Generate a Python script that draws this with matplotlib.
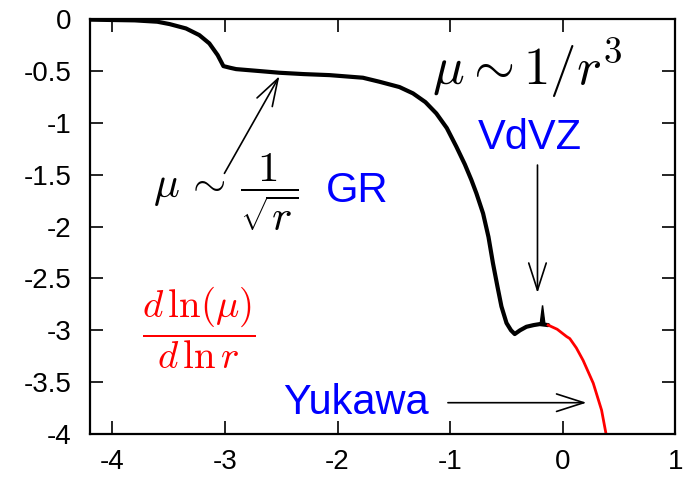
import matplotlib
matplotlib.use("Agg")
import matplotlib.pyplot as plt
from matplotlib.patches import Polygon

plt.rcParams['font.family'] = ['Liberation Sans', 'DejaVu Sans']
plt.rcParams['mathtext.fontset'] = 'cm'

# logarithmic slope of mu versus ln r
x_black = [-4.2, -3.8, -3.6, -3.49, -3.345, -3.227, -3.138, -3.064, -3.013,
           -2.95, -2.90, -2.7, -2.516, -2.3, -2.07, -1.775, -1.627, -1.45,
           -1.33, -1.22, -1.123, -1.03, -0.945, -0.87, -0.812, -0.767, -0.708,
           -0.66, -0.62, -0.58, -0.545, -0.5, -0.46, -0.427, -0.38, -0.323,
           -0.26, -0.204, -0.13]
y_black = [-0.005, -0.012, -0.025, -0.048, -0.09, -0.154, -0.234, -0.347, -0.453,
           -0.47, -0.482, -0.50, -0.517, -0.53, -0.54, -0.565, -0.604, -0.655,
           -0.716, -0.80, -0.909, -1.05, -1.23, -1.40, -1.55, -1.68, -1.873,
           -2.10, -2.355, -2.58, -2.77, -2.93, -3.0, -3.036, -3.0, -2.966,
           -2.95, -2.94, -2.95]

x_red = [-0.13, -0.05, 0.033, 0.062, 0.12, 0.18, 0.27, 0.344, 0.382]
y_red = [-2.95, -2.99, -3.06, -3.08, -3.17, -3.29, -3.51, -3.77, -3.99]

x_ticks = [-4, -3, -2, -1, 0, 1]
y_ticks = [0, -0.5, -1, -1.5, -2, -2.5, -3, -3.5, -4]
y_ticklabels = ['0', '-0.5', '-1', '-1.5', '-2', '-2.5', '-3', '-3.5', '-4']

# arrow endpoints (tail, head)
gr_arrow = ((-3.004, -1.487), (-2.516, -0.55))
vdvz_arrow = ((-0.225, -1.407), (-0.225, -2.64))
yukawa_arrow = ((-1.02, -3.698), (0.21, -3.698))
spike = [(-0.20, -2.93), (-0.16, -2.93), (-0.18, -2.76)]

fig = plt.figure(figsize=(6.83, 4.78), dpi=100)
ax = fig.add_axes([0.1313, 0.092, 0.8577, 0.868])

ax.plot(x_black, y_black, color='black', lw=3.0, solid_capstyle='round',
        solid_joinstyle='round')
ax.plot(x_red, y_red, color='red', lw=2.0)
ax.add_patch(Polygon(spike, closed=True, color='black'))

ax.set_xlim(-4.2, 1)
ax.set_ylim(-4, 0)
ax.set_xticks(x_ticks)
ax.set_xticklabels([str(t) for t in x_ticks])
ax.set_yticks(y_ticks)
ax.set_yticklabels(y_ticklabels)
ax.tick_params(direction='in', length=9.5, width=1.2, labelsize=20,
               top=True, right=True, color='black')
ax.tick_params(axis='x', pad=11)
ax.tick_params(axis='y', pad=13)
for s in ax.spines.values():
    s.set_linewidth(1.6)

arrow_kw = dict(arrowstyle='->,head_length=1.4,head_width=0.45',
                color='black', lw=1.2, mutation_scale=14, shrinkA=0, shrinkB=0)
for tail, head in (gr_arrow, vdvz_arrow, yukawa_arrow):
    ax.annotate('', xy=head, xytext=tail, arrowprops=arrow_kw)

ax.text(-0.32, -0.47, r'$\mu \sim 1/r^3$', fontsize=38, ha='center',
        va='center', color='black')
ax.text(-0.293, -1.147, 'VdVZ', fontsize=30, ha='center', va='center',
        color='blue')
ax.text(-2.99, -1.667, r'$\mu\,\sim\,\dfrac{1}{\sqrt{r}}$', fontsize=31,
        ha='center', va='center', color='black')
ax.text(-1.827, -1.66, 'GR', fontsize=30, ha='center', va='center',
        color='blue')
ax.text(-3.227, -2.975, r'$\dfrac{d\,\ln(\mu)}{d\,\ln r}$', fontsize=28,
        ha='center', va='center', color='red')
ax.text(-1.84, -3.698, 'Yukawa', fontsize=30, ha='center', va='center',
        color='blue')

fig.savefig('out.png', dpi=100)
